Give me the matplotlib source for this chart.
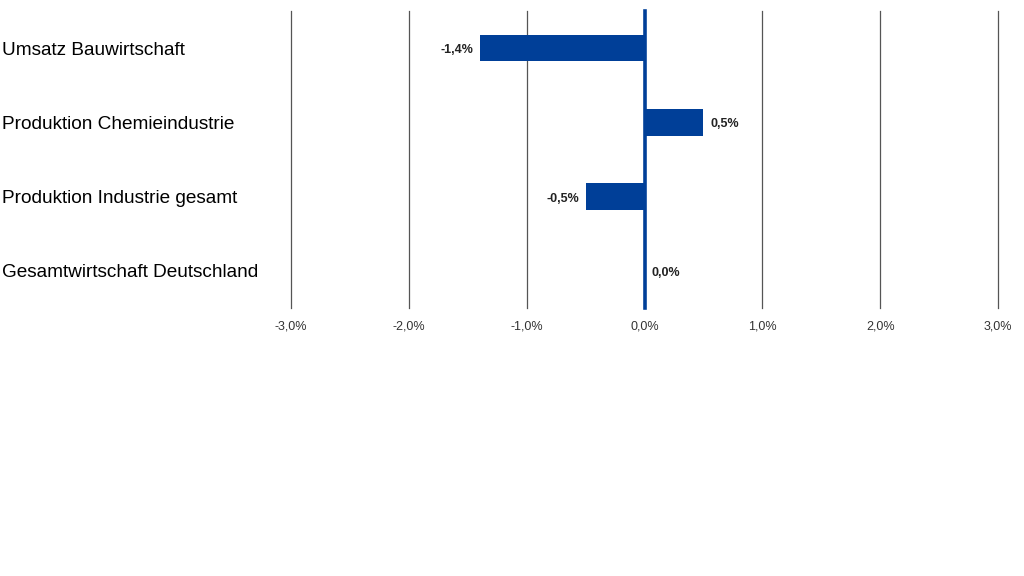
import matplotlib.pyplot as plt
from matplotlib.transforms import blended_transform_factory, offset_copy

plt.rcParams['font.family'] = ['Liberation Sans', 'DejaVu Sans']

categories = [
    'Umsatz Bauwirtschaft',
    'Produktion Chemieindustrie',
    'Produktion Industrie gesamt',
    'Gesamtwirtschaft Deutschland',
]
values = [-1.4, 0.5, -0.5, 0.0]
ticks = [-3, -2, -1, 0, 1, 2, 3]

BLUE = '#003F98'


def fmt(v):
    return f'{v:.1f}%'.replace('.', ',')


fig = plt.figure(figsize=(10.24, 5.76), dpi=100)
ax = fig.add_axes([0.2842, 0.4653, 0.6904, 0.5157])

ys = list(range(len(categories)))
ax.barh(ys, values, height=0.36, color=BLUE, zorder=3)

ax.set_xlim(-3, 3)
ax.set_ylim(3.5, -0.5)
ax.set_xticks(ticks)
ax.set_xticklabels([fmt(t) for t in ticks], fontsize=9, color='#333333')
ax.tick_params(axis='x', length=0, pad=9)
ax.set_yticks([])
for s in ax.spines.values():
    s.set_visible(False)

for t in ticks:
    if t == 0:
        ax.axvline(0, color=BLUE, lw=2.6, zorder=4, clip_on=False)
    else:
        ax.axvline(t, color='#555555', lw=0.9, zorder=1, clip_on=False)

# value labels, nudged a little below the bar centre like the original
val_tr = offset_copy(ax.transData, fig=fig, x=0, y=-2, units='dots')
for y, v in zip(ys, values):
    if v < 0:
        ax.text(v - 0.05, y, fmt(v), ha='right', va='center', transform=val_tr,
                fontsize=9, fontweight='bold', color='#222222')
    else:
        ax.text(v + 0.06, y, fmt(v), ha='left', va='center', transform=val_tr,
                fontsize=9, fontweight='bold', color='#222222')

# category labels sit at the left edge of the figure
label_tr = offset_copy(blended_transform_factory(fig.transFigure, ax.transData),
                       fig=fig, x=0, y=-2, units='dots')
for y, c in zip(ys, categories):
    ax.text(2 / 1024, y, c, transform=label_tr,
            ha='left', va='center', fontsize=13.7, color='#000000')

fig.savefig('out.png', dpi=100)
